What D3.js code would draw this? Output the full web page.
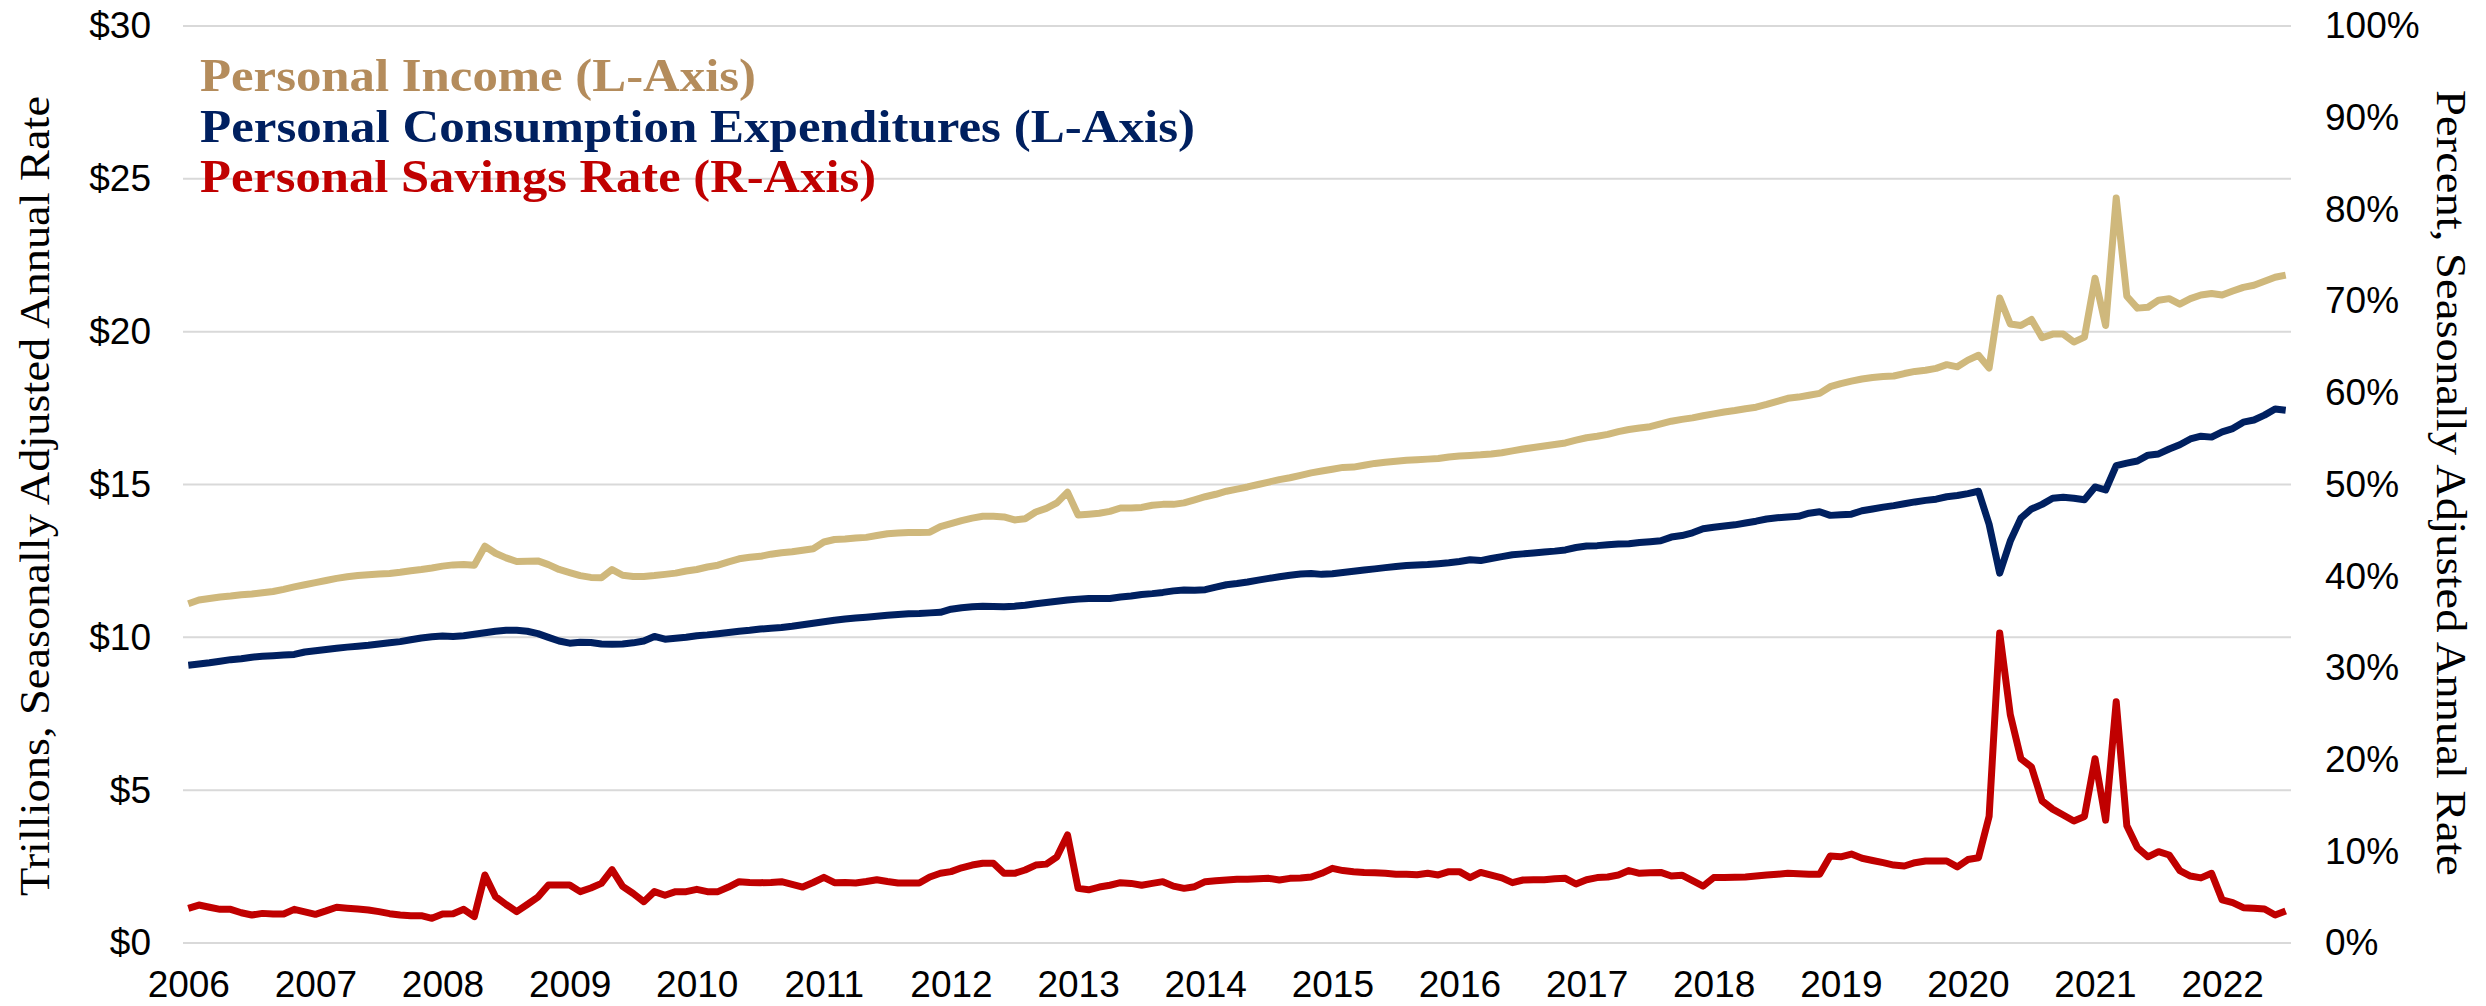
<!DOCTYPE html>
<meta charset="utf-8">
<script src="https://d3js.org/d3.v7.min.js"></script>
<style>
  body { margin: 0; background: #fff; }
  .tick text { font-family: "Liberation Sans", Arial, sans-serif; font-size: 37px; fill: #000; }
</style>
<body>
<div id="chart"></div>
<script>

// monthly, Jan 2006 .. Jul 2022
var startMonth = new Date(2006, 0, 1)
var months = d3.timeMonth.range(startMonth, new Date(2022, 7, 1))

var yearLabels = d3.range(2006, 2023)

// Personal income, $ trillions SAAR (left axis)
var income = [
  11.10, 11.22, 11.27, 11.32, 11.35, 11.39, 11.42, 11.46, 11.50, 11.57, 11.65, 11.72,
  11.79, 11.86, 11.93, 11.98, 12.02, 12.05, 12.07, 12.09, 12.13, 12.18, 12.22, 12.27,
  12.33, 12.37, 12.38, 12.36, 12.98, 12.75, 12.60, 12.48, 12.49, 12.50, 12.38, 12.22,
  12.12, 12.02, 11.96, 11.95, 12.22, 12.03, 11.99, 11.99, 12.02, 12.06, 12.10, 12.17,
  12.22, 12.30, 12.36, 12.47, 12.57, 12.62, 12.65, 12.72, 12.77, 12.80, 12.85, 12.90,
  13.12, 13.20, 13.22, 13.25, 13.27, 13.33, 13.39, 13.41, 13.43, 13.43, 13.44, 13.62,
  13.72, 13.82, 13.90, 13.96, 13.96, 13.94, 13.84, 13.88, 14.10, 14.22, 14.40, 14.75,
  14.00, 14.03, 14.06, 14.12, 14.23, 14.23, 14.25, 14.32, 14.35, 14.35, 14.40, 14.50,
  14.60, 14.68, 14.78, 14.85, 14.92, 15.00, 15.08, 15.16, 15.22, 15.30, 15.38, 15.44,
  15.50, 15.56, 15.57, 15.63, 15.69, 15.73, 15.76, 15.79, 15.81, 15.83, 15.85, 15.90,
  15.93, 15.95, 15.97, 16.00, 16.04, 16.10, 16.16, 16.21, 16.26, 16.31, 16.36, 16.45,
  16.53, 16.58, 16.64, 16.73, 16.80, 16.85, 16.89, 16.98, 17.07, 17.13, 17.18, 17.25,
  17.31, 17.37, 17.42, 17.48, 17.53, 17.62, 17.72, 17.82, 17.86, 17.92, 17.98, 18.20,
  18.30, 18.38, 18.45, 18.50, 18.53, 18.55, 18.63, 18.70, 18.74, 18.80, 18.92, 18.85,
  19.07, 19.23, 18.81, 21.10, 20.25, 20.20, 20.40, 19.80, 19.92, 19.92, 19.66, 19.82,
  21.75, 20.20, 24.37, 21.16, 20.77, 20.80, 21.03, 21.08, 20.90, 21.08, 21.20, 21.25,
  21.20, 21.33, 21.45, 21.52, 21.65, 21.78, 21.85
]

// Personal consumption expenditures, $ trillions SAAR (left axis)
var pce = [
  9.09, 9.13, 9.17, 9.22, 9.27, 9.30, 9.35, 9.38, 9.40, 9.42, 9.44, 9.52,
  9.56, 9.60, 9.64, 9.68, 9.71, 9.74, 9.78, 9.82, 9.86, 9.92, 9.98, 10.02,
  10.04, 10.03, 10.05, 10.10, 10.15, 10.20, 10.23, 10.23, 10.20, 10.12, 10.00, 9.88,
  9.81, 9.84, 9.83, 9.78, 9.77, 9.78, 9.82, 9.88, 10.03, 9.94, 9.97, 10.00,
  10.05, 10.08, 10.12, 10.16, 10.20, 10.23, 10.27, 10.30, 10.32, 10.36, 10.41, 10.46,
  10.51, 10.56, 10.60, 10.63, 10.66, 10.69, 10.72, 10.75, 10.77, 10.78, 10.80, 10.82,
  10.92, 10.97, 11.00, 11.02, 11.01, 11.00, 11.02, 11.05, 11.10, 11.14, 11.18, 11.22,
  11.25, 11.27, 11.27, 11.27, 11.32, 11.35, 11.40, 11.43, 11.47, 11.52, 11.55, 11.54,
  11.56, 11.64, 11.72, 11.76, 11.81, 11.87, 11.93, 11.98, 12.03, 12.07, 12.09, 12.06,
  12.08, 12.12, 12.16, 12.20, 12.24, 12.28, 12.32, 12.35, 12.37, 12.38, 12.41, 12.44,
  12.48, 12.54, 12.51, 12.58, 12.64, 12.70, 12.73, 12.76, 12.79, 12.82, 12.86, 12.94,
  12.99, 13.00, 13.03, 13.05, 13.06, 13.10, 13.13, 13.16, 13.28, 13.33, 13.42, 13.55,
  13.60, 13.64, 13.68, 13.74, 13.80, 13.87, 13.91, 13.94, 13.96, 14.06, 14.11, 13.99,
  14.01, 14.03, 14.14, 14.20, 14.26, 14.31, 14.37, 14.43, 14.48, 14.52, 14.60, 14.64,
  14.70, 14.78, 13.70, 12.10, 13.15, 13.90, 14.20, 14.35, 14.55, 14.58, 14.55, 14.50,
  14.92, 14.82, 15.62, 15.70, 15.77, 15.96, 16.00, 16.16, 16.30, 16.49, 16.58, 16.55,
  16.72, 16.83, 17.04, 17.11, 17.27, 17.47, 17.43
]

// Personal saving rate, percent (right axis)
var savings = [
  3.78, 4.14, 3.90, 3.67, 3.67, 3.30, 3.05, 3.23, 3.16, 3.16, 3.67, 3.40,
  3.13, 3.50, 3.90, 3.80, 3.70, 3.60, 3.42, 3.20, 3.05, 2.98, 2.98, 2.69,
  3.16, 3.20, 3.67, 2.87, 7.42, 5.05, 4.20, 3.42, 4.20, 5.00, 6.32, 6.32,
  6.32, 5.60, 6.00, 6.50, 8.00, 6.18, 5.40, 4.50, 5.60, 5.20, 5.60, 5.60,
  5.85, 5.60, 5.60, 6.10, 6.69, 6.60, 6.58, 6.60, 6.69, 6.40, 6.10, 6.60,
  7.16, 6.58, 6.60, 6.54, 6.70, 6.90, 6.70, 6.54, 6.54, 6.54, 7.20, 7.60,
  7.78, 8.20, 8.50, 8.70, 8.70, 7.60, 7.60, 7.96, 8.50, 8.60, 9.40, 11.78,
  5.96, 5.80, 6.10, 6.30, 6.58, 6.50, 6.30, 6.50, 6.69, 6.20, 5.96, 6.14,
  6.69, 6.80, 6.87, 6.94, 6.95, 7.00, 7.05, 6.87, 7.05, 7.10, 7.20, 7.60,
  8.14, 7.90, 7.78, 7.70, 7.65, 7.60, 7.50, 7.50, 7.45, 7.60, 7.42, 7.78,
  7.78, 7.13, 7.70, 7.40, 7.10, 6.58, 6.87, 6.90, 6.90, 7.00, 7.05, 6.43,
  6.90, 7.13, 7.20, 7.42, 7.90, 7.60, 7.65, 7.70, 7.30, 7.40, 6.80, 6.20,
  7.13, 7.15, 7.18, 7.20, 7.30, 7.42, 7.50, 7.60, 7.55, 7.50, 7.50, 9.49,
  9.40, 9.70, 9.24, 9.00, 8.76, 8.50, 8.40, 8.76, 8.94, 8.94, 8.94, 8.30,
  9.10, 9.30, 13.80, 33.80, 24.90, 20.10, 19.20, 15.50, 14.60, 13.96, 13.30, 13.80,
  20.10, 13.40, 26.30, 12.80, 10.40, 9.40, 9.96, 9.60, 7.90, 7.30, 7.10, 7.60,
  4.70, 4.40, 3.85, 3.80, 3.70, 3.05, 3.50
]

var leftTicks = [0, 5, 10, 15, 20, 25, 30]
var rightTicks = [0, 0.1, 0.2, 0.3, 0.4, 0.5, 0.6, 0.7, 0.8, 0.9, 1.0]

var seriesNames = ["Personal Income (L-Axis)", "Personal Consumption Expenditures (L-Axis)", "Personal Savings Rate (R-Axis)"]

var width = 2486
var height = 1006
var plot = {left: 183, right: 2291, top: 26, bottom: 943}

var svg = d3.select("#chart")
  .append("svg")
    .attr("width", width)
    .attr("height", height)

var x = d3.scaleLinear()
  .domain([-0.5, months.length - 0.5])
  .range([plot.left, plot.right])

var yL = d3.scaleLinear().domain([0, 30]).range([plot.bottom, plot.top])
var yR = d3.scaleLinear().domain([0, 1]).range([plot.bottom, plot.top])

// gridlines from the left axis
svg.append("g")
  .selectAll("line")
  .data(leftTicks)
  .enter()
  .append("line")
    .attr("x1", plot.left)
    .attr("x2", plot.right)
    .attr("y1", function(d){ return yL(d) })
    .attr("y2", function(d){ return yL(d) })
    .attr("stroke", "#d9d9d9")
    .attr("stroke-width", 2)

// axes
var gL = svg.append("g")
  .attr("transform", "translate(" + plot.left + ",0)")
  .call(d3.axisLeft(yL).tickValues(leftTicks).tickSize(0).tickPadding(32)
    .tickFormat(function(d){ return "$" + d }))
gL.select(".domain").remove()

var gR = svg.append("g")
  .attr("transform", "translate(" + plot.right + ",0)")
  .call(d3.axisRight(yR).tickValues(rightTicks).tickSize(0).tickPadding(34)
    .tickFormat(d3.format(".0%")))
gR.select(".domain").remove()

var gX = svg.append("g")
  .attr("transform", "translate(0," + plot.bottom + ")")
  .call(d3.axisBottom(x)
    .tickValues(yearLabels.map(function(yr){ return (yr - 2006) * 12 }))
    .tickSize(0).tickPadding(28)
    .tickFormat(function(d){ return yearLabels[d / 12] }))
gX.select(".domain").remove()

// axis titles
svg.append("text")
  .attr("transform", "translate(35,496) rotate(-90)")
  .attr("text-anchor", "middle")
  .attr("dominant-baseline", "central")
  .attr("textLength", 800)
  .attr("lengthAdjust", "spacingAndGlyphs")
  .style("font-family", "'Liberation Serif', 'Times New Roman', serif")
  .style("font-size", "42px")
  .text("Trillions, Seasonally Adjusted Annual Rate")

svg.append("text")
  .attr("transform", "translate(2451,483) rotate(90)")
  .attr("text-anchor", "middle")
  .attr("dominant-baseline", "central")
  .attr("textLength", 786)
  .attr("lengthAdjust", "spacingAndGlyphs")
  .style("font-family", "'Liberation Serif', 'Times New Roman', serif")
  .style("font-size", "42px")
  .text("Percent, Seasonally Adjusted Annual Rate")

// lines
var lineL = d3.line()
  .x(function(d, i){ return x(i) })
  .y(function(d){ return yL(d) })

var lineR = d3.line()
  .x(function(d, i){ return x(i) })
  .y(function(d){ return yR(d / 100) })

svg.append("path")
  .datum(savings)
  .attr("d", lineR)
  .attr("fill", "none")
  .attr("stroke", "#c00000")
  .attr("stroke-width", 7)
  .attr("stroke-linejoin", "round")

svg.append("path")
  .datum(pce)
  .attr("d", lineL)
  .attr("fill", "none")
  .attr("stroke", "#002060")
  .attr("stroke-width", 7)
  .attr("stroke-linejoin", "round")

svg.append("path")
  .datum(income)
  .attr("d", lineL)
  .attr("fill", "none")
  .attr("stroke", "#cfb87c")
  .attr("stroke-width", 7)
  .attr("stroke-linejoin", "round")

// legend text
var legendColors = ["#b48c5c", "#002060", "#c00000"]
var legendWidths = [556, 995, 676]
svg.selectAll("legend")
  .data(seriesNames)
  .enter()
  .append("text")
    .attr("x", 200)
    .attr("y", function(d, i){ return 91 + i * 50.5 })
    .attr("textLength", function(d, i){ return legendWidths[i] })
    .attr("lengthAdjust", "spacingAndGlyphs")
    .style("font-family", "'Liberation Serif', 'Times New Roman', serif")
    .style("font-weight", "bold")
    .style("font-size", "46px")
    .style("fill", function(d, i){ return legendColors[i] })
    .text(function(d){ return d })

</script>
</body>
